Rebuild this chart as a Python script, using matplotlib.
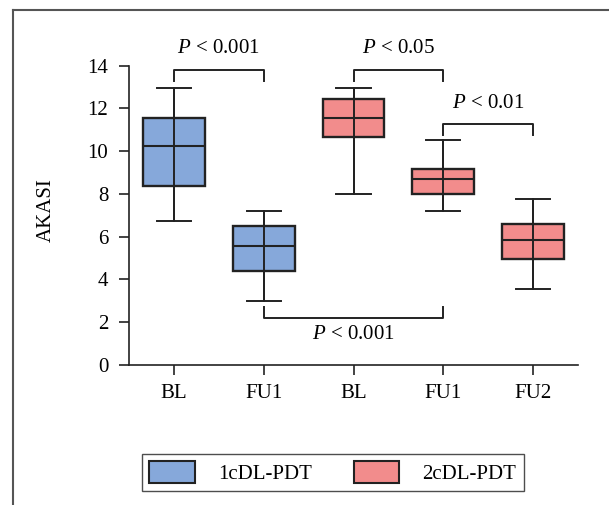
import matplotlib
matplotlib.use("Agg")
import matplotlib.pyplot as plt
from matplotlib.patches import Patch
from matplotlib.lines import Line2D

plt.rcParams['font.family'] = ['Liberation Serif', 'DejaVu Serif']
plt.rcParams['mathtext.fontset'] = 'custom'
plt.rcParams['mathtext.rm'] = 'Liberation Serif'
plt.rcParams['mathtext.it'] = 'Liberation Serif:italic'

# ---- data ----
categories = ["BL", "FU1", "BL", "FU1", "FU2"]
groups = ["1cDL-PDT", "1cDL-PDT", "2cDL-PDT", "2cDL-PDT", "2cDL-PDT"]
whisker_low = [6.75, 3.0, 8.0, 7.2, 3.55]
q1 = [8.37, 4.42, 10.65, 7.99, 4.96]
median = [10.23, 5.55, 11.56, 8.71, 5.86]
q3 = [11.56, 6.50, 12.44, 9.18, 6.61]
whisker_high = [12.95, 7.22, 12.95, 10.53, 7.76]
yticks = [0, 2, 4, 6, 8, 10, 12, 14]
group_colors = {"1cDL-PDT": "#86A8DA", "2cDL-PDT": "#F28C8C"}

# significance brackets: (x1, x2, y_bar, y_leg_end, label, label_y)
brackets = [
    (1, 2, 13.81, 13.3, "P < 0.001", 14.8),
    (3, 4, 13.81, 13.3, "P < 0.05", 14.8),
    (4, 5, 11.28, 10.77, "P < 0.01", 12.25),
    (2, 4, 2.18, 2.72, "P < 0.001", 1.45),
]

W, H = 609, 505
fig = plt.figure(figsize=(W / 100, H / 100), dpi=100)
ax = fig.add_axes([129 / W, (H - 365) / H, (578 - 129) / W, (365 - 65.7) / H])

edge = "#222222"
positions = list(range(1, len(categories) + 1))
stats = []
for i in range(len(categories)):
    stats.append(dict(whislo=whisker_low[i], q1=q1[i], med=median[i],
                      q3=q3[i], whishi=whisker_high[i], fliers=[]))

bp = ax.bxp(stats, positions=positions, widths=0.69, patch_artist=True,
            showfliers=False, capwidths=0.38,
            boxprops=dict(linewidth=1.7, edgecolor=edge),
            medianprops=dict(color=edge, linewidth=1.5),
            whiskerprops=dict(color=edge, linewidth=1.4),
            capprops=dict(color=edge, linewidth=1.4))
for patch, g in zip(bp['boxes'], groups):
    patch.set_facecolor(group_colors[g])
# whisker line visible through the box
ax.vlines(positions, whisker_low, whisker_high, color=edge, linewidth=1.4, zorder=3)

ax.set_xlim(0.5, 5.5)
ax.set_ylim(0, 14)
ax.set_yticks(yticks)
ax.set_xticks(positions)
ax.set_xticklabels(categories)
ax.tick_params(axis='both', labelsize=15, length=7, width=1.2, color="#222222",
               direction='out')
ax.tick_params(axis='x', pad=7)
ax.tick_params(axis='y', pad=8)
for s in ['top', 'right']:
    ax.spines[s].set_visible(False)
for s in ['left', 'bottom']:
    ax.spines[s].set_linewidth(1.2)
    ax.spines[s].set_color("#222222")
ax.set_ylabel("AKASI", fontsize=15)
ax.yaxis.set_label_coords(-0.163, 0.518)

for x1, x2, yb, yl, lab, ly in brackets:
    ax.plot([x1, x1, x2, x2], [yl, yb, yb, yl], color=edge, linewidth=1.4,
            clip_on=False)
    txt = r"$\it{P}$" + lab[1:]
    ax.text((x1 + x2) / 2, ly, txt, ha='center', va='center', fontsize=15,
            clip_on=False)

handles = [Patch(facecolor=group_colors[g], edgecolor=edge, linewidth=1.5)
           for g in ["1cDL-PDT", "2cDL-PDT"]]
leg = fig.legend(handles, ["1cDL-PDT", "2cDL-PDT"], loc='center',
                 bbox_to_anchor=(332.8 / W, (H - 472.5) / H), ncol=2,
                 fontsize=15, frameon=True, fancybox=False, edgecolor=edge,
                 handlelength=2.2, handleheight=1.2, handletextpad=1.1,
                 columnspacing=2.0, borderpad=0.35)
leg.get_frame().set_linewidth(1.0)

# outer frame (top and left)
fig.add_artist(Line2D([12.5 / W, 12.5 / W], [0, (H - 9.5) / H],
                      transform=fig.transFigure, color="#555555", linewidth=1.5))
fig.add_artist(Line2D([12.5 / W, 1], [(H - 9.5) / H, (H - 9.5) / H],
                      transform=fig.transFigure, color="#555555", linewidth=1.5))

fig.savefig("out.png", dpi=100)
